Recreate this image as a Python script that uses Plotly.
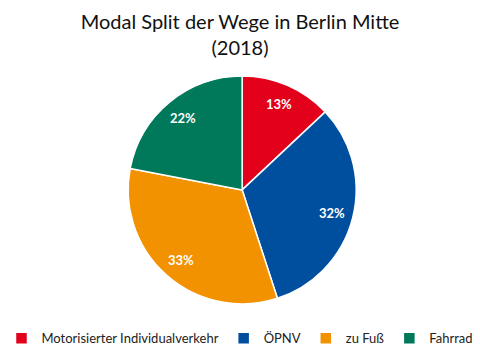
import math
import plotly.graph_objects as go

labels = ["Motorisierter Individualverkehr", "ÖPNV", "zu Fuß", "Fahrrad"]
values = [13, 32, 33, 22]
colors = ["#E2001A", "#004F9F", "#F39200", "#00785A"]

W, H = 480, 360
dom_x = [0.267, 0.742]
dom_y = [0.155, 0.79]

fig = go.Figure(go.Pie(
    labels=labels,
    values=values,
    sort=False,
    direction="clockwise",
    rotation=0,
    marker=dict(colors=colors, line=dict(color="white", width=1.5)),
    textinfo="none",
    domain=dict(x=dom_x, y=dom_y),
    hoverinfo="label+percent",
))

# percent labels placed radially (derived from the data)
cx = (dom_x[0] + dom_x[1]) / 2
cy = (dom_y[0] + dom_y[1]) / 2
R = (dom_y[1] - dom_y[0]) * H / 2
r = 0.815 * R
total = sum(values)
cum = 0
for v in values:
    mid = (cum + v / 2) / total * 2 * math.pi
    cum += v
    fig.add_annotation(
        x=cx + r * math.sin(mid) / W,
        y=cy + r * math.cos(mid) / H,
        xref="paper", yref="paper",
        text=f"{round(v / total * 100)}%",
        showarrow=False,
        xanchor="center", yanchor="middle",
        font=dict(color="white", size=13, family="Lato", weight="bold"),
    )

fig.update_layout(
    width=W, height=H,
    margin=dict(l=0, r=0, t=0, b=0),
    paper_bgcolor="white",
    plot_bgcolor="white",
    font=dict(family="Lato", color="#222222"),
    title=dict(
        text="Modal Split der Wege in Berlin Mitte<br>(2018)",
        x=0.5, xanchor="center", y=0.92, yanchor="middle",
        font=dict(size=20, family="Lato", color="#111111"),
    ),
    legend=dict(
        orientation="h", x=0.5, xanchor="center", y=0.06, yanchor="middle",
        font=dict(size=13, family="Lato", color="#222222"),
        itemwidth=30, traceorder="normal",
    ),
)

fig.write_html("out.html")
